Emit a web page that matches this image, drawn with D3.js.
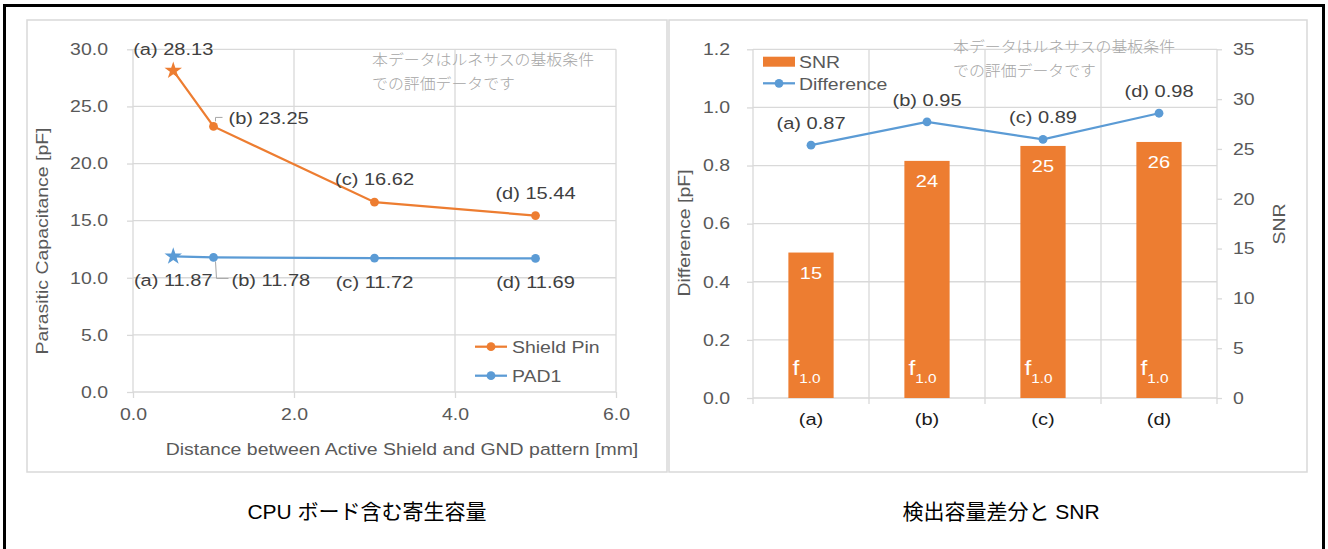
<!DOCTYPE html>
<html>
<head>
<meta charset="utf-8">
<script src="https://cdn.jsdelivr.net/npm/d3@7"></script>
<style>
body { margin: 0; background: #fff; }
text { font-family: "Liberation Sans", Arial, "Noto Sans CJK JP", sans-serif; }
</style>
</head>
<body>
<svg id="chart" width="1328" height="549"></svg>
<script>
// ---- left chart data
var distances = [0.5, 1, 3, 5];
var shieldPin = [28.13, 23.25, 16.62, 15.44];
var pad1 = [11.87, 11.78, 11.72, 11.69];
var pointNames = ['(a)', '(b)', '(c)', '(d)'];
var capTicks = [0, 5, 10, 15, 20, 25, 30];
var distTicks = [0, 2, 4, 6];

// ---- right chart data
var categories = ['(a)', '(b)', '(c)', '(d)'];
var snr = [14.6, 23.8, 25.3, 25.7];
var difference = [0.87, 0.95, 0.89, 0.98];
var freqLabels = ['1.0', '1.0', '1.0', '1.0'];
var diffTicks = [0, 0.2, 0.4, 0.6, 0.8, 1.0, 1.2];
var snrTicks = [0, 5, 10, 15, 20, 25, 30, 35];

var note = ['本データはルネサスの基板条件', 'での評価データです'];

var svg = d3.select('#chart');
var SX = 1.18;
var grid = '#d9d9d9',
    tickCol = '#595959',
    labCol = '#404040',
    orange = '#ed7d31',
    blue = '#5b9bd5';

// chart text is a bit wider than Liberation Sans, so stretch it
function stretch(sel) {
    sel.each(function () {
        var t = d3.select(this);
        var x = +t.attr('x') || 0,
            y = +t.attr('y') || 0;
        t.attr('x', null).attr('y', null)
            .attr('transform', 'translate(' + x + ',' + y + ') scale(' + SX + ',1)');
    });
}

function styleAxis(g, size, col) {
    g.attr('font-size', null).attr('font-family', null);
    g.select('.domain').remove();
    g.selectAll('.tick line').attr('stroke', grid).attr('stroke-width', 1.3);
    g.selectAll('.tick text').attr('fill', col).style('font-size', size + 'px');
    stretch(g.selectAll('.tick text'));
}

var circleD = d3.symbol(d3.symbolCircle, Math.PI * 4.4 * 4.4)();
var starD = d3.symbol(d3.symbolStar, 95)();

// panels
svg.append('rect')
    .attr('x', 27).attr('y', 20)
    .attr('width', 640).attr('height', 452)
    .attr('fill', '#fff').attr('stroke', grid).attr('stroke-width', 1.5);
svg.append('rect')
    .attr('x', 669).attr('y', 20)
    .attr('width', 638).attr('height', 452)
    .attr('fill', '#fff').attr('stroke', grid).attr('stroke-width', 1.5);

// ================= left chart
var x1 = d3.scaleLinear().domain([0, 6]).range([133, 616]);
var y1 = d3.scaleLinear().domain([0, 30]).range([392, 49.3]);
var g1 = svg.append('g');

g1.selectAll('.hgrid').data(capTicks).join('line')
    .attr('class', 'hgrid')
    .attr('x1', x1(0)).attr('x2', x1(6))
    .attr('y1', function (d) { return y1(d); })
    .attr('y2', function (d) { return y1(d); })
    .attr('stroke', grid).attr('stroke-width', 1.3);
g1.selectAll('.vgrid').data(distTicks).join('line')
    .attr('class', 'vgrid')
    .attr('y1', y1(0)).attr('y2', y1(30))
    .attr('x1', function (d) { return x1(d); })
    .attr('x2', function (d) { return x1(d); })
    .attr('stroke', grid).attr('stroke-width', 1.3);

g1.append('g')
    .attr('transform', 'translate(' + x1(0) + ',0)')
    .call(d3.axisLeft(y1).tickValues(capTicks).tickFormat(d3.format('.1f')).tickSize(6).tickPadding(19))
    .call(styleAxis, 16.5, tickCol);
g1.append('g')
    .attr('transform', 'translate(0,' + y1(0) + ')')
    .call(d3.axisBottom(x1).tickValues(distTicks).tickFormat(d3.format('.1f')).tickSize(6).tickPadding(10))
    .call(styleAxis, 16.5, tickCol);

g1.append('text')
    .attr('transform', 'translate(48,241) rotate(-90) scale(' + SX + ',1)')
    .attr('text-anchor', 'middle').attr('fill', tickCol)
    .style('font-size', '16.5px')
    .text('Parasitic Capacitance [pF]');
g1.append('text')
    .attr('x', 402).attr('y', 455)
    .attr('text-anchor', 'middle').attr('fill', tickCol)
    .style('font-size', '16.5px')
    .text('Distance between Active Shield and GND pattern [mm]')
    .call(stretch);

var line1 = d3.line()
    .x(function (d, i) { return x1(distances[i]); })
    .y(function (d) { return y1(d); });

var series1 = [
    { name: 'Shield Pin', values: shieldPin, color: orange,
      pos: [{ dx: 0, dy: -16, a: 'middle' }, { dx: 15, dy: -2.5, a: 'start' },
            { dx: 0, dy: -17, a: 'middle' }, { dx: 0, dy: -16.5, a: 'middle' }] },
    { name: 'PAD1', values: pad1, color: blue,
      pos: [{ dx: 0, dy: 29.5, a: 'middle' }, { dx: 18, dy: 28.5, a: 'start' },
            { dx: 0, dy: 30, a: 'middle' }, { dx: 0, dy: 30, a: 'middle' }] }
];

// leader lines for the (b) labels
var bx = x1(distances[1]);
g1.append('path')
    .attr('d', 'M' + (bx + 2) + ',' + (y1(shieldPin[1]) - 5) + 'L' + (bx + 2) + ',' + (y1(shieldPin[1]) - 9) +
        'L' + (bx + 9) + ',' + (y1(shieldPin[1]) - 9))
    .attr('fill', 'none').attr('stroke', '#a6a6a6').attr('stroke-width', 1);
g1.append('path')
    .attr('d', 'M' + (bx + 2) + ',' + (y1(pad1[1]) + 4) + 'L' + (bx + 3) + ',' + (y1(pad1[1]) + 21) +
        'L' + (bx + 15) + ',' + (y1(pad1[1]) + 21))
    .attr('fill', 'none').attr('stroke', '#a6a6a6').attr('stroke-width', 1);

series1.forEach(function (s) {
    g1.append('path').datum(s.values)
        .attr('d', line1)
        .attr('fill', 'none').attr('stroke', s.color).attr('stroke-width', 2.25);
    g1.selectAll(null).data(s.values).join('path')
        .attr('transform', function (d, i) { return 'translate(' + x1(distances[i]) + ',' + y1(d) + ')'; })
        .attr('d', function (d, i) { return i === 0 ? starD : circleD; })
        .attr('fill', s.color);
    g1.selectAll(null).data(s.values).join('text')
        .attr('x', function (d, i) { return x1(distances[i]) + s.pos[i].dx; })
        .attr('y', function (d, i) { return y1(d) + s.pos[i].dy; })
        .attr('text-anchor', function (d, i) { return s.pos[i].a; })
        .attr('fill', labCol).style('font-size', '17px')
        .text(function (d, i) { return pointNames[i] + ' ' + d3.format('.2f')(d); })
        .call(stretch);
});

// legend
series1.forEach(function (s, i) {
    var ly = 346.7 + i * 29;
    g1.append('line').attr('x1', 475).attr('x2', 507).attr('y1', ly).attr('y2', ly)
        .attr('stroke', s.color).attr('stroke-width', 2.25);
    g1.append('path').attr('transform', 'translate(491,' + ly + ')').attr('d', circleD).attr('fill', s.color);
    g1.append('text').attr('x', 512).attr('y', ly + 6)
        .attr('fill', tickCol).style('font-size', '16.5px')
        .text(s.name).call(stretch);
});

// ================= right chart
var xb = d3.scaleBand().domain(categories).range([753, 1217]).paddingInner(0.61).paddingOuter(0.305);
var yl = d3.scaleLinear().domain([0, 1.2]).range([398, 49.3]);
var yr = d3.scaleLinear().domain([0, 35]).range([398, 49.3]);
var g2 = svg.append('g');
var x0 = xb.range()[0], step = xb.step();
var bounds = d3.range(categories.length + 1).map(function (i) { return x0 + i * step; });

g2.selectAll('.hgrid').data(diffTicks).join('line')
    .attr('class', 'hgrid')
    .attr('x1', 753).attr('x2', 1217)
    .attr('y1', function (d) { return yl(d); })
    .attr('y2', function (d) { return yl(d); })
    .attr('stroke', grid).attr('stroke-width', 1.3);
g2.selectAll('.vgrid').data(bounds).join('line')
    .attr('class', 'vgrid')
    .attr('y1', yl(1.2)).attr('y2', yl(0) + 6)
    .attr('x1', function (d) { return d; })
    .attr('x2', function (d) { return d; })
    .attr('stroke', grid).attr('stroke-width', 1.3);

g2.append('g')
    .attr('transform', 'translate(753,0)')
    .call(d3.axisLeft(yl).tickValues(diffTicks).tickFormat(d3.format('.1f')).tickSize(6).tickPadding(17))
    .call(styleAxis, 16.5, tickCol);
g2.append('g')
    .attr('transform', 'translate(1217,0)')
    .call(d3.axisRight(yr).tickValues(snrTicks).tickFormat(d3.format('d')).tickSize(5).tickPadding(11))
    .call(styleAxis, 16.5, tickCol);
g2.append('g')
    .attr('transform', 'translate(0,' + yl(0) + ')')
    .call(d3.axisBottom(xb).tickSize(0).tickPadding(15))
    .call(styleAxis, 17, '#1a1a1a');

g2.append('text')
    .attr('transform', 'translate(690,233) rotate(-90) scale(' + SX + ',1)')
    .attr('text-anchor', 'middle').attr('fill', tickCol)
    .style('font-size', '16.5px')
    .text('Difference [pF]');
g2.append('text')
    .attr('transform', 'translate(1285,224) rotate(-90) scale(' + SX + ',1)')
    .attr('text-anchor', 'middle').attr('fill', tickCol)
    .style('font-size', '16.5px')
    .text('SNR');

// bars
g2.selectAll('.bar').data(snr).join('rect')
    .attr('class', 'bar')
    .attr('x', function (d, i) { return xb(categories[i]); })
    .attr('width', xb.bandwidth())
    .attr('y', function (d) { return yr(d); })
    .attr('height', function (d) { return yr(0) - yr(d); })
    .attr('fill', orange);
g2.selectAll('.barlab').data(snr).join('text')
    .attr('class', 'barlab')
    .attr('x', function (d, i) { return xb(categories[i]) + xb.bandwidth() / 2; })
    .attr('y', function (d) { return yr(d) + 26; })
    .attr('text-anchor', 'middle').attr('fill', '#fff')
    .style('font-size', '17px')
    .text(function (d) { return d3.format('.0f')(d); })
    .call(stretch);
var fl = g2.selectAll('.flab').data(freqLabels).join('text')
    .attr('class', 'flab')
    .attr('x', function (d, i) { return xb(categories[i]) + 4; })
    .attr('y', yr(0) - 23)
    .attr('fill', '#fff');
fl.append('tspan').style('font-size', '21px').text('f');
fl.append('tspan').attr('dy', 7.5).style('font-size', '13px').text(function (d) { return d; });
fl.call(stretch);

// difference line
var line2 = d3.line()
    .x(function (d, i) { return xb(categories[i]) + xb.bandwidth() / 2; })
    .y(function (d) { return yl(d); });
g2.append('path').datum(difference)
    .attr('d', line2)
    .attr('fill', 'none').attr('stroke', blue).attr('stroke-width', 2.25);
g2.selectAll('.dmk').data(difference).join('path')
    .attr('class', 'dmk')
    .attr('transform', function (d, i) { return 'translate(' + (xb(categories[i]) + xb.bandwidth() / 2) + ',' + yl(d) + ')'; })
    .attr('d', circleD).attr('fill', blue);
g2.selectAll('.dlab').data(difference).join('text')
    .attr('class', 'dlab')
    .attr('x', function (d, i) { return xb(categories[i]) + xb.bandwidth() / 2; })
    .attr('y', function (d) { return yl(d) - 16; })
    .attr('text-anchor', 'middle').attr('fill', labCol)
    .style('font-size', '17px')
    .text(function (d, i) { return categories[i] + ' ' + d3.format('.2f')(d); })
    .call(stretch);

// legend
g2.append('rect').attr('x', 763).attr('y', 56.7).attr('width', 32).attr('height', 10).attr('fill', orange);
g2.append('text').attr('x', 799).attr('y', 67.7)
    .attr('fill', tickCol).style('font-size', '16.5px').text('SNR').call(stretch);
g2.append('line').attr('x1', 763).attr('x2', 795).attr('y1', 83.3).attr('y2', 83.3)
    .attr('stroke', blue).attr('stroke-width', 2.25);
g2.append('path').attr('transform', 'translate(779,83.3)').attr('d', circleD).attr('fill', blue);
g2.append('text').attr('x', 799).attr('y', 89.5)
    .attr('fill', tickCol).style('font-size', '16.5px').text('Difference').call(stretch);

// notes
[[372, 65], [953, 52]].forEach(function (p) {
    note.forEach(function (t, i) {
        svg.append('text')
            .attr('transform', 'translate(' + p[0] + ',' + (p[1] + i * 24) + ') scale(1.06,1)')
            .attr('fill', '#a6a6a6')
            .style('font-family', '"Noto Sans CJK JP", sans-serif')
            .style('font-weight', 300)
            .style('font-size', '15px')
            .text(t);
    });
});

// captions
svg.append('text').attr('x', 367).attr('y', 519)
    .attr('text-anchor', 'middle').attr('fill', '#000')
    .style('font-size', '21px')
    .text('CPU ボード含む寄生容量');
svg.append('text').attr('x', 1001).attr('y', 519)
    .attr('text-anchor', 'middle').attr('fill', '#000')
    .style('font-size', '21px')
    .text('検出容量差分と SNR');

// outer frame
svg.append('rect')
    .attr('x', 4.5).attr('y', 5.5)
    .attr('width', 1319).attr('height', 570)
    .attr('fill', 'none').attr('stroke', '#000').attr('stroke-width', 3);
</script>
</body>
</html>
